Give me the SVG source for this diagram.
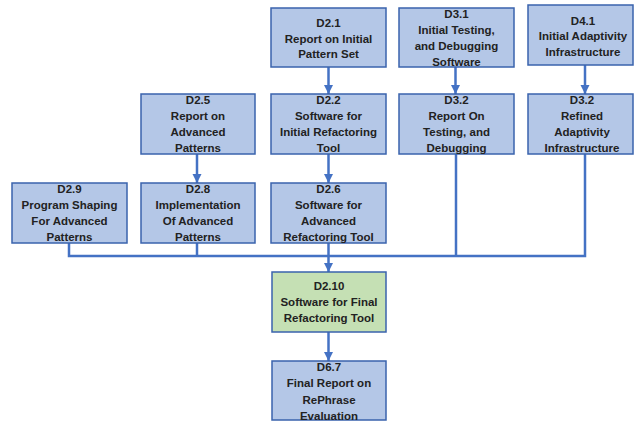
<svg xmlns="http://www.w3.org/2000/svg" width="635" height="421" viewBox="0 0 635 421">
<defs>
<marker id="ah" markerUnits="userSpaceOnUse" markerWidth="10" markerHeight="10" refX="9" refY="4.5" orient="auto">
<path d="M0,0 L9,4.5 L0,9 z" fill="#4472c4"/>
</marker>
<style>
.box{fill:#b4c7e7;stroke:#3a63ad;stroke-width:1.5}
.green{fill:#c5e0b4}
.t{font-family:"Liberation Sans",Arial,sans-serif;font-size:11.5px;font-weight:bold;fill:#222222;text-anchor:middle}
.c{fill:none;stroke:#4472c4;stroke-width:2.5}
.a{marker-end:url(#ah)}
</style>
</defs>
<rect width="635" height="421" fill="#ffffff"/>
<g id="connectors">
<path class="c a" d="M328.5,67 V94"/>
<path class="c a" d="M455.5,67 V94"/>
<path class="c a" d="M585,65 V94"/>
<path class="c a" d="M197,154 V183"/>
<path class="c a" d="M328.5,154 V183"/>
<path class="c" d="M69,243 V256 H585 V154"/>
<path class="c" d="M197,243 V256"/>
<path class="c" d="M456,154 V256"/>
<path class="c a" d="M328.5,243 V272"/>
<path class="c a" d="M328.5,332 V361"/>
</g>
<g id="D2.1"><rect class="box" x="271" y="8" width="115" height="59"/>
<text class="t" x="328.5" y="27">D2.1</text><text class="t" x="328.5" y="42.5">Report on Initial</text><text class="t" x="328.5" y="58">Pattern Set</text></g>
<g id="D3.1"><rect class="box" x="399" y="8" width="115" height="59"/>
<text class="t" x="456.5" y="17.5">D3.1</text><text class="t" x="456.5" y="33.5">Initial Testing,</text><text class="t" x="456.5" y="49.5">and Debugging</text><text class="t" x="456.5" y="65.5">Software</text></g>
<g id="D4.1"><rect class="box" x="528" y="5" width="105" height="60"/>
<text class="t" x="583" y="24.5">D4.1</text><text class="t" x="583" y="40">Initial Adaptivity</text><text class="t" x="583" y="55.5">Infrastructure</text></g>
<g id="D2.5"><rect class="box" x="141" y="94" width="114" height="60"/>
<text class="t" x="198" y="104">D2.5</text><text class="t" x="198" y="120">Report on</text><text class="t" x="198" y="136">Advanced</text><text class="t" x="198" y="152">Patterns</text></g>
<g id="D2.2"><rect class="box" x="271" y="94" width="115" height="60"/>
<text class="t" x="328.5" y="104">D2.2</text><text class="t" x="328.5" y="120">Software for</text><text class="t" x="328.5" y="136">Initial Refactoring</text><text class="t" x="328.5" y="152">Tool</text></g>
<g id="D3.2a"><rect class="box" x="399" y="94" width="115" height="60"/>
<text class="t" x="456.5" y="104">D3.2</text><text class="t" x="456.5" y="120">Report On</text><text class="t" x="456.5" y="136">Testing, and</text><text class="t" x="456.5" y="152">Debugging</text></g>
<g id="D3.2b"><rect class="box" x="528" y="94" width="105" height="60"/>
<text class="t" x="582" y="104">D3.2</text><text class="t" x="582" y="120">Refined</text><text class="t" x="582" y="136">Adaptivity</text><text class="t" x="582" y="152">Infrastructure</text></g>
<g id="D2.9"><rect class="box" x="12" y="183" width="115" height="60"/>
<text class="t" x="69.5" y="193">D2.9</text><text class="t" x="69.5" y="209">Program Shaping</text><text class="t" x="69.5" y="225">For Advanced</text><text class="t" x="69.5" y="241">Patterns</text></g>
<g id="D2.8"><rect class="box" x="141" y="183" width="114" height="60"/>
<text class="t" x="198" y="193">D2.8</text><text class="t" x="198" y="209">Implementation</text><text class="t" x="198" y="225">Of Advanced</text><text class="t" x="198" y="241">Patterns</text></g>
<g id="D2.6"><rect class="box" x="271" y="183" width="115" height="60"/>
<text class="t" x="328.5" y="193">D2.6</text><text class="t" x="328.5" y="209">Software for</text><text class="t" x="328.5" y="225">Advanced</text><text class="t" x="328.5" y="241">Refactoring Tool</text></g>
<g id="D2.10"><rect class="box green" x="272" y="272" width="114" height="60"/>
<text class="t" x="329" y="290">D2.10</text><text class="t" x="329" y="306">Software for Final</text><text class="t" x="329" y="322">Refactoring Tool</text></g>
<g id="D6.7"><rect class="box" x="272" y="361" width="114" height="59"/>
<text class="t" x="329" y="371">D6.7</text><text class="t" x="329" y="387">Final Report on</text><text class="t" x="329" y="404">RePhrase</text><text class="t" x="329" y="420">Evaluation</text></g>
</svg>
